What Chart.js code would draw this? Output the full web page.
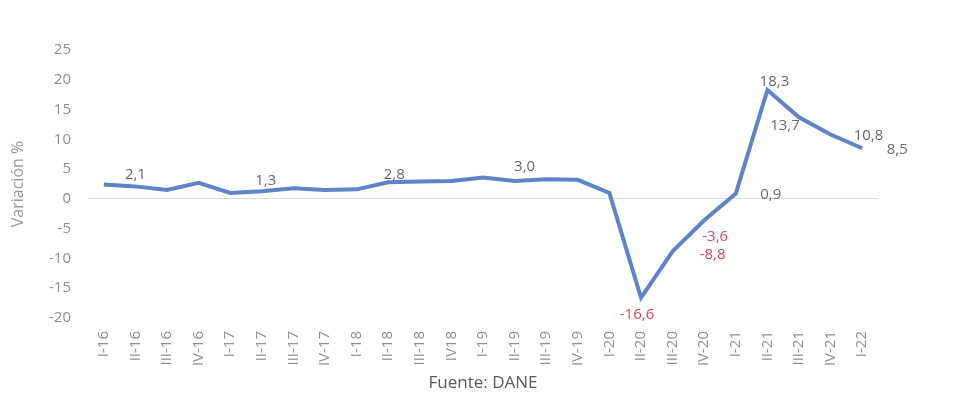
<!DOCTYPE html>
<html>
<head>
<meta charset="utf-8">
<script src="https://cdn.jsdelivr.net/npm/chart.js@4.4.1/dist/chart.umd.min.js"></script>
<style>
  html, body { margin: 0; padding: 0; background: #fff; }
  #wrap { width: 979px; height: 405px; }
</style>
</head>
<body>
<div id="wrap"><canvas id="graficoPib"></canvas></div>
<script>
// trimestres y variación anual del PIB (%)
var trimestres = ['I-16','II-16','III-16','IV-16','I-17','II-17','III-17','IV-17','I-18','II-18','III-18','IV18','I-19','II-19','III-19','IV-19','I-20','II-20','III-20','IV-20','I-21','II-21','III-21','IV-21','I-22'];
var variacion = [2.4, 2.1, 1.5, 2.7, 1.0, 1.3, 1.8, 1.5, 1.6, 2.8, 2.9, 3.0, 3.6, 3.0, 3.3, 3.2, 1.0, -16.6, -8.8, -3.6, 0.9, 18.3, 13.7, 10.8, 8.5];
var ticksY = [25, 20, 15, 10, 5, 0, -5, -10, -15, -20];
// puntos con etiqueta de valor
var etiquetados = [1, 5, 9, 13, 17, 18, 19, 20, 21, 22, 23, 24];

// desplazamiento de cada etiqueta respecto a su punto (px)
var posEtiqueta = {
    1: [0, -12], 5: [4, -10], 9: [6, -7], 13: [10, -14],
    17: [-4, 17], 18: [40, 3], 19: [11, 16], 20: [35, 1],
    21: [7, -8], 22: [-14, 8], 23: [38, 1], 24: [35, 1]
};

var fuente = '"Open Sans", sans-serif';

var etiquetasPlugin = {
    id: 'etiquetas',
    afterDatasetsDraw: function(chart) {
        var ctx = chart.ctx;
        var meta = chart.getDatasetMeta(0);
        ctx.save();
        ctx.font = '15px ' + fuente;
        ctx.textAlign = 'center';
        ctx.textBaseline = 'middle';
        etiquetados.forEach(function(i) {
            var p = meta.data[i];
            var off = posEtiqueta[i] || [0, -12];
            var v = variacion[i];
            ctx.fillStyle = v < 0 ? 'rgb(218, 72, 84)' : 'rgb(105, 105, 105)';
            ctx.fillText(v.toFixed(1).replace('.', ','), p.x + off[0], p.y + off[1]);
        });
        ctx.restore();
    }
};

var ctx = document.querySelector('#graficoPib');
new Chart(ctx, {
    type: 'line',
    data: {
        labels: trimestres,
        datasets: [{
            data: variacion,
            borderColor: 'rgb(94, 132, 198)',
            borderWidth: 4,
            pointRadius: 0,
            tension: 0,
            fill: false
        }]
    },
    options: {
        responsive: true,
        maintainAspectRatio: false,
        animation: false,
        layout: { padding: { top: 50, right: 101, left: 5, bottom: 10 } },
        scales: {
            x: {
                offset: true,
                afterFit: function(axis) { axis.height = 77; },
                grid: { display: false },
                border: { display: false },
                ticks: {
                    color: '#8f8f8f',
                    padding: 5,
                    font: { size: 15, family: fuente },
                    maxRotation: 90,
                    minRotation: 90,
                    autoSkip: false
                },
                title: {
                    display: true,
                    text: 'Fuente: DANE',
                    color: '#5a5a5a',
                    font: { size: 17, family: fuente },
                    padding: { top: 0, bottom: 2 }
                }
            },
            y: {
                min: -20,
                max: 25,
                afterFit: function(axis) { axis.width = 83; },
                afterBuildTicks: function(axis) {
                    axis.ticks = ticksY.map(function(v) { return { value: v }; });
                },
                grid: {
                    drawTicks: false,
                    color: function(c) { return c.tick.value === 0 ? '#dcdcdc' : 'transparent'; }
                },
                border: { display: false },
                ticks: {
                    color: '#8f8f8f',
                    padding: 17,
                    font: { size: 15, family: fuente }
                },
                title: {
                    display: true,
                    text: 'Variación %',
                    color: '#999',
                    font: { size: 16, family: fuente }
                }
            }
        },
        plugins: {
            legend: { display: false },
            tooltip: { enabled: false }
        }
    },
    plugins: [etiquetasPlugin]
});
</script>
</body>
</html>
